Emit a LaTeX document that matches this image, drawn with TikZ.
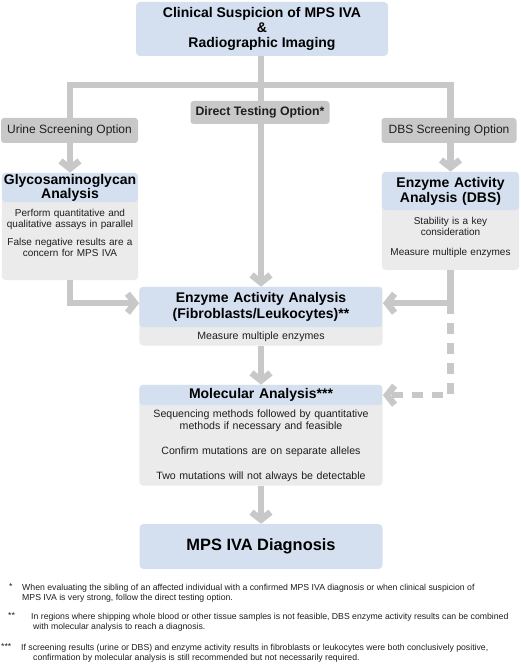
\documentclass[tikz,border=0pt]{standalone}
\usepackage{fontspec}
\setmainfont{Liberation Sans}
\usetikzlibrary{arrows.meta, positioning, fit, backgrounds, calc}
\definecolor{headblue}{HTML}{D4E0F0}
\definecolor{bodygray}{HTML}{EBEBEB}
\definecolor{flowgray}{HTML}{C8C8C8}
\definecolor{inkdark}{HTML}{1E1E1E}

\tikzset{
  hdr/.style={inner sep=0pt, align=center, text=black,
              font=\bfseries\fontsize{14}{15}\selectfont},
  bdy/.style={inner sep=0pt, align=center, text=inkdark,
              font=\fontsize{10}{11}\selectfont},
  card/.style={inner sep=0pt, rounded corners=4pt, fill=bodygray,
               path picture={\fill[headblue] (path picture bounding box.north west)
                 rectangle (#1.south -| path picture bounding box.east);}},
  optbox/.style={fill=flowgray, rounded corners=3pt, inner sep=0pt, text=inkdark,
                 font=\fontsize{12}{14}\selectfont},
  link/.style={draw=flowgray, line width=6.5pt},
  flow/.style={link, -{Straight Barb[length=7.5pt, width=19pt]}},
  fnote/.style={anchor=north west, inner sep=0pt, align=left, text=inkdark,
                font=\fontsize{8.7}{10.5}\selectfont},
}

\begin{document}
\begin{tikzpicture}[x=1pt, y=-1pt]
  \useasboundingbox (0,0) rectangle (520,671);

  % top box
  \node[hdr, fill=headblue, rounded corners=4pt, minimum width=252pt,
        minimum height=54pt] (clin) at (262,29)
        {Clinical Suspicion of MPS IVA\\\&\\Radiographic Imaging};

  % urine branch
  \node[hdr, text width=136pt, minimum height=29pt, font=\bfseries\fontsize{14}{13}\selectfont]
        (glyhd) at (70,187.5) {Glycosaminoglycan\\Analysis};
  \node[bdy, text width=136pt, minimum height=62pt, anchor=north] (glybd) at (glyhd.south)
        {Perform quantitative and\\qualitative assays in parallel\\[7pt]
         False negative results are a\\concern for MPS IVA};
  \coordinate (glybot) at (70,280);

  % DBS branch
  \node[hdr, text width=137pt, minimum height=38pt] (dbshd) at (450.5,191)
        {Enzyme Activity\\Analysis (DBS)};
  \node[bdy, text width=137pt, minimum height=54pt, anchor=north] (dbsbd) at (dbshd.south)
        {Stability is a key\\consideration\\[9pt]Measure multiple enzymes};
  \coordinate (dbsbot) at (450.5,270);

  % fibroblasts / leukocytes
  \node[hdr, text width=243pt, minimum height=40pt, font=\bfseries\fontsize{14}{16}\selectfont]
        (fibhd) at (261,307) {Enzyme Activity Analysis\\(Fibroblasts/Leukocytes)**};
  \node[bdy, text width=243pt, minimum height=18pt, anchor=north,
        font=\fontsize{10.6}{12}\selectfont] (fibbd) at (fibhd.south)
        {Measure multiple enzymes};

  % molecular
  \node[hdr, text width=243pt, minimum height=20pt] (molhd) at (261,395)
        {Molecular Analysis***};
  \node[bdy, text width=243pt, minimum height=80pt, anchor=north,
        font=\fontsize{10.6}{12}\selectfont] (molbd) at (molhd.south)
        {Sequencing methods followed by quantitative\\methods if necessary and feasible\\[13pt]
         Confirm mutations are on separate alleles\\[13pt]
         Two mutations will not always be detectable};

  % diagnosis
  \node[hdr, fill=headblue, rounded corners=4pt, minimum width=243pt, minimum height=45pt,
        font=\bfseries\fontsize{16.4}{18}\selectfont] (diag) at (261,546.5) {MPS IVA Diagnosis};

  \begin{scope}[on background layer]
    \node[card=glyhd, fit=(glyhd)(glybd)(glybot)] (glycard) {};
    \node[card=dbshd, fit=(dbshd)(dbsbd)(dbsbot)] (dbscard) {};
    \node[card=fibhd, fit=(fibhd)(fibbd)] (fibcard) {};
    \node[card=molhd, fit=(molhd)(molbd)] (molcard) {};
  \end{scope}

  % connectors
  \coordinate (jn) at (261,85);
  \draw[flow] (clin.south -| fibcard.north) -- (fibcard.north);
  \draw[flow] (jn) -| (glycard.north);
  \draw[flow] (jn) -| (dbscard.north);
  \draw[flow] (glycard.south) |- ([yshift=13pt]fibcard.west);
  \draw[flow] (dbscard.south) |- ([yshift=13pt]fibcard.east);
  \draw[flow, dash pattern=on 11pt off 9pt]
    ([yshift=13pt]fibcard.east -| dbscard.south) |- ([yshift=40pt]molcard.east);
  \draw[flow] (fibcard.south) -- (molcard.north);
  \draw[flow] (molcard.south) -- (diag.north);

  % option labels
  \node[optbox, minimum width=137pt, minimum height=25pt] (urineopt) at (69.5,130.5)
        {Urine Screening Option};
  \node[optbox, minimum width=139pt, minimum height=23pt, font=\bfseries\fontsize{12.3}{14}\selectfont]
        (directopt) at (260,112.5) {Direct Testing Option*};
  \node[optbox, minimum width=135pt, minimum height=25pt] (dbsopt) at (449,130.5)
        {DBS Screening Option};

  % footnotes
  \node[fnote] (fna) at (22,583.5)
        {When evaluating the sibling of an affected individual with a confirmed MPS IVA diagnosis or when clinical suspicion of\\
         MPS IVA is very strong, follow the direct testing option.};
  \node[fnote] (fnamark) at ([xshift=-13pt]fna.north west) {*};
  \node[fnote] (fnb) at (31,612.5)
        {In regions where shipping whole blood or other tissue samples is not feasible, DBS enzyme activity results can be combined\\
         \hspace*{2pt}with molecular analysis to reach a diagnosis.};
  \node[fnote] (fnbmark) at ([xshift=-23pt]fnb.north west) {**};
  \node[fnote] (fnc) at (21,643.5)
        {If screening results (urine or DBS) and enzyme activity results in fibroblasts or leukocytes were both conclusively positive,\\
         \hspace*{12pt}confirmation by molecular analysis is still recommended but not necessarily required.};
  \node[fnote] (fncmark) at ([xshift=-20pt]fnc.north west) {***};
\end{tikzpicture}
\end{document}
